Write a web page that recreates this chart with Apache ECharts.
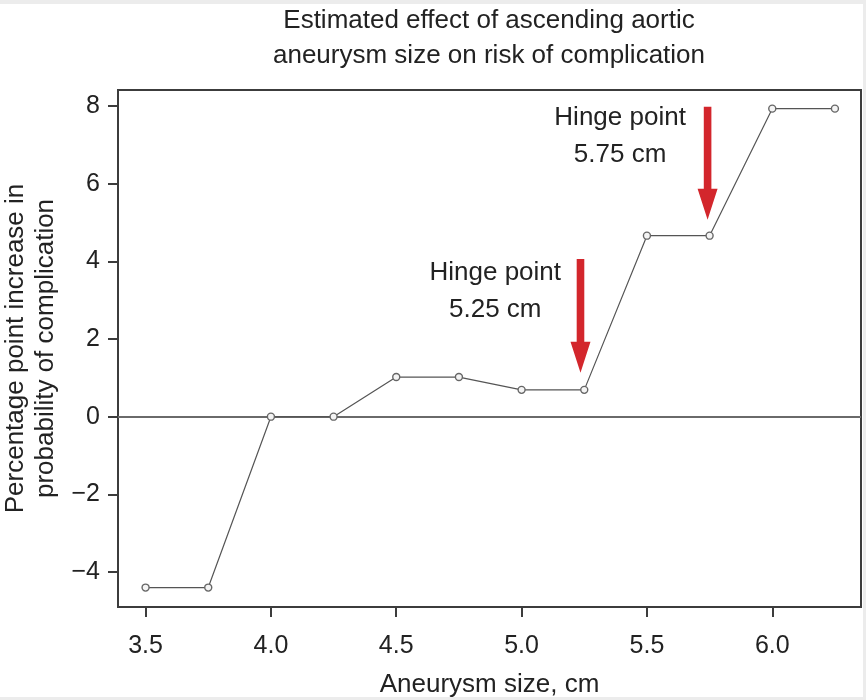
<!DOCTYPE html>
<html>
<head>
<meta charset="utf-8">
<script src="https://cdn.jsdelivr.net/npm/echarts@6/dist/echarts.min.js"></script>
<style>
html,body{margin:0;padding:0;background:#fff;}
#chart{width:866px;height:700px;}
</style>
</head>
<body>
<div id="chart"></div>
<script>
// Data
var sizes = [3.5, 3.75, 4.0, 4.25, 4.5, 4.75, 5.0, 5.25, 5.5, 5.75, 6.0, 6.25];
var effects = [-4.40, -4.40, 0, 0, 1.02, 1.02, 0.69, 0.69, 4.66, 4.66, 7.93, 7.93];
var xTicks = [3.5, 4.0, 4.5, 5.0, 5.5, 6.0];
var yTicks = [-4, -2, 0, 2, 4, 6, 8];
// Hinge arrows: x, top of arrow, tip of arrow (data units)
var arrowX = [5.235, 5.742];
var arrowTop = [4.06, 7.98];
var arrowTip = [1.13, 5.07];
// Hinge annotations (data units)
var noteX = [4.895, 5.393];
var noteY = [3.23, 7.22];
var noteText = ['Hinge point\n5.25 cm', 'Hinge point\n5.75 cm'];

var FONT = '"Liberation Sans", Arial, Helvetica, sans-serif';
var TXT = '#222';

var arrowData = arrowX.map(function (x, i) { return [x, arrowTop[i], arrowTip[i]]; });
var noteData = noteX.map(function (x, i) { return [x, noteY[i], noteText[i]]; });

var chart = echarts.init(document.getElementById('chart'));
chart.setOption({
  backgroundColor: '#ffffff',
  animation: false,
  title: {
    text: 'Estimated effect of ascending aortic\naneurysm size on risk of complication',
    left: 489,
    textAlign: 'center',
    top: 3,
    padding: 0,
    textStyle: { fontFamily: FONT, fontSize: 26, fontWeight: 'normal', color: TXT, lineHeight: 35 }
  },
  graphic: [
    { type: 'rect', shape: { x: 0, y: 0, width: 866, height: 4 }, style: { fill: '#ececec' }, silent: true },
    { type: 'rect', shape: { x: 0, y: 697, width: 866, height: 3 }, style: { fill: '#ececec' }, silent: true },
    { type: 'rect', shape: { x: 863, y: 0, width: 3, height: 700 }, style: { fill: '#ececec' }, silent: true }
  ],
  grid: {
    left: 118, right: 5, top: 90, bottom: 93,
    containLabel: false,
    outerBoundsMode: 'none',
    show: true, borderColor: '#3c3c3c', borderWidth: 2, backgroundColor: 'transparent'
  },
  xAxis: {
    type: 'value',
    min: 3.39, max: 6.354,
    name: 'Aneurysm size, cm',
    nameLocation: 'middle',
    nameGap: 65,
    nameTextStyle: { fontFamily: FONT, fontSize: 26, color: TXT },
    axisLine: { show: true, onZero: false, lineStyle: { color: '#3c3c3c', width: 2 } },
    axisTick: { show: true, customValues: xTicks, length: 10, inside: false, lineStyle: { color: '#3c3c3c', width: 2 } },
    axisLabel: {
      customValues: xTicks, margin: 27,
      fontFamily: FONT, fontSize: 25, color: TXT,
      formatter: function (v) { return v.toFixed(1); }
    },
    splitLine: { show: false }
  },
  yAxis: {
    type: 'value',
    min: -4.9, max: 8.41,
    name: 'Percentage point increase in\nprobability of complication',
    nameLocation: 'middle',
    nameGap: 56,
    nameRotate: 90,
    nameTextStyle: { fontFamily: FONT, fontSize: 26, color: TXT, lineHeight: 30 },
    axisLine: { show: true, onZero: false, lineStyle: { color: '#3c3c3c', width: 2 } },
    axisTick: { show: true, customValues: yTicks, length: 10, inside: false, lineStyle: { color: '#3c3c3c', width: 2 } },
    axisLabel: {
      customValues: yTicks, margin: 18,
      fontFamily: FONT, fontSize: 25, color: TXT,
      formatter: function (v) { return String(v).replace('-', '\u2212'); }
    },
    splitLine: { show: false }
  },
  series: [
    {
      type: 'line',
      data: sizes.map(function (x, i) { return [x, effects[i]]; }),
      symbol: 'circle',
      symbolSize: 7,
      showAllSymbol: true,
      lineStyle: { color: '#555', width: 1.2 },
      itemStyle: { color: '#f4f4f4', borderColor: '#666', borderWidth: 1.4 },
      z: 3,
      markLine: {
        silent: true,
        symbol: ['none', 'none'],
        label: { show: false },
        lineStyle: { color: '#6a6a6a', width: 2, type: 'solid' },
        data: [{ yAxis: 0 }],
        z: 1
      }
    },
    {
      type: 'custom',
      data: arrowData,
      z: 4,
      renderItem: function (params, api) {
        var top = api.coord([api.value(0), api.value(1)]);
        var tip = api.coord([api.value(0), api.value(2)]);
        var cx = top[0];
        var shaft = 3.8, head = 10, headLen = 31;
        var hb = tip[1] - headLen;
        return {
          type: 'polygon',
          shape: {
            points: [
              [cx - shaft, top[1]], [cx + shaft, top[1]], [cx + shaft, hb],
              [cx + head, hb], [cx, tip[1]], [cx - head, hb], [cx - shaft, hb]
            ]
          },
          style: { fill: '#d3262c' }
        };
      }
    },
    {
      type: 'custom',
      data: noteData,
      z: 4,
      renderItem: function (params, api) {
        var p = api.coord([api.value(0), api.value(1)]);
        return {
          type: 'text',
          x: p[0], y: p[1],
          style: {
            text: noteText[params.dataIndex],
            fontFamily: FONT, fontSize: 26, fill: TXT,
            align: 'center', verticalAlign: 'middle', lineHeight: 37
          }
        };
      }
    }
  ]
});
</script>
</body>
</html>
